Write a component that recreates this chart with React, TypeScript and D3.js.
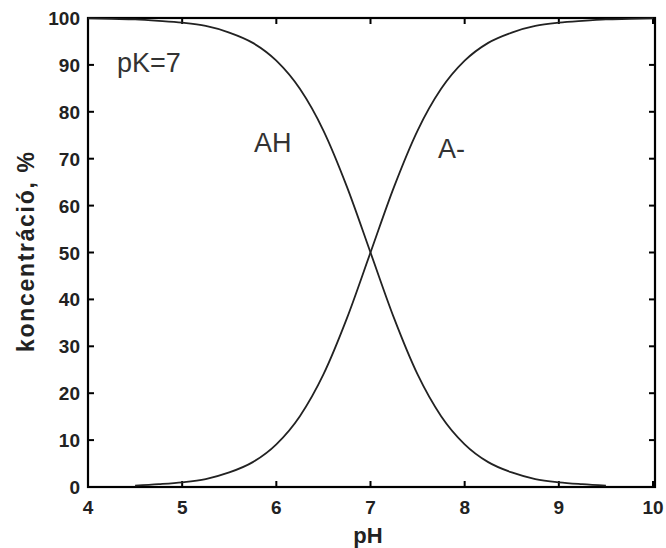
import React, { useEffect, useRef } from "react";
import * as d3 from "d3";

const width = 666;
const height = 548;
const margin = { top: 18, right: 11, bottom: 61, left: 88 };

// pH steps and read concentrations (%)
const phAH = [4.0, 4.25, 4.5, 4.75, 5.0, 5.25, 5.5, 5.75, 6.0, 6.25, 6.5, 6.75, 7.0, 7.25, 7.5, 7.75, 8.0, 8.25, 8.5, 8.75, 9.0, 9.25, 9.5];
const valAH = [99.9, 99.8, 99.7, 99.4, 99.0, 98.3, 96.9, 94.7, 90.9, 84.9, 76.0, 64.0, 50.0, 36.0, 24.0, 15.1, 9.1, 5.3, 3.1, 1.7, 1.0, 0.6, 0.3];
const phA = [4.5, 4.75, 5.0, 5.25, 5.5, 5.75, 6.0, 6.25, 6.5, 6.75, 7.0, 7.25, 7.5, 7.75, 8.0, 8.25, 8.5, 8.75, 9.0, 9.25, 9.5, 9.75, 10.0];
const valA = [0.3, 0.6, 1.0, 1.7, 3.1, 5.3, 9.1, 15.1, 24.0, 36.0, 50.0, 64.0, 76.0, 84.9, 90.9, 94.7, 96.9, 98.3, 99.0, 99.4, 99.7, 99.8, 99.9];

const xTicks = [4, 5, 6, 7, 8, 9, 10];
const yTicks = [0, 10, 20, 30, 40, 50, 60, 70, 80, 90, 100];

const App = () => {
  const ref = useRef<SVGSVGElement>(null);

  useEffect(() => {
    const svg = d3.select(ref.current);
    svg.selectAll("*").remove();
    const font = "'Liberation Sans', Arial, sans-serif";

    const x = d3.scaleLinear().domain([4, 10]).range([margin.left, 653]);
    const y = d3.scaleLinear().domain([0, 100]).range([height - margin.bottom, margin.top]);
    const x0 = margin.left, x1 = 655, y0 = height - margin.bottom, y1 = margin.top;

    svg.append("rect")
      .attr("x", x0).attr("y", y1)
      .attr("width", x1 - x0).attr("height", y0 - y1)
      .attr("fill", "none").attr("stroke", "#000").attr("stroke-width", 2.2);

    const tl = 6;
    const g = svg.append("g").attr("stroke", "#000").attr("stroke-width", 2);
    xTicks.forEach((t) => {
      g.append("line").attr("x1", x(t)).attr("x2", x(t)).attr("y1", y0).attr("y2", y0 - tl);
      g.append("line").attr("x1", x(t)).attr("x2", x(t)).attr("y1", y1).attr("y2", y1 + tl);
    });
    yTicks.forEach((t) => {
      g.append("line").attr("x1", x0).attr("x2", x0 + tl).attr("y1", y(t)).attr("y2", y(t));
      g.append("line").attr("x1", x1).attr("x2", x1 - tl).attr("y1", y(t)).attr("y2", y(t));
    });

    svg.append("g").selectAll("text").data(xTicks).join("text")
      .attr("x", (d) => x(d)).attr("y", y0 + 27)
      .attr("text-anchor", "middle")
      .attr("font-family", font).attr("font-weight", "bold").attr("font-size", 19)
      .attr("fill", "#222").text((d) => d);

    svg.append("g").selectAll("text").data(yTicks).join("text")
      .attr("x", x0 - 8).attr("y", (d) => y(d) + 7)
      .attr("text-anchor", "end")
      .attr("font-family", font).attr("font-weight", "bold").attr("font-size", 19)
      .attr("fill", "#222").text((d) => d);

    svg.append("text")
      .attr("x", 368).attr("y", 543)
      .attr("text-anchor", "middle")
      .attr("font-family", font).attr("font-weight", "bold").attr("font-size", 22)
      .attr("fill", "#222").text("pH");

    svg.append("text")
      .attr("transform", `translate(34,252) rotate(-90)`)
      .attr("text-anchor", "middle")
      .attr("font-family", font).attr("font-weight", "bold").attr("font-size", 23)
      .attr("textLength", 200).attr("lengthAdjust", "spacing")
      .attr("fill", "#222").text("koncentráció, %");

    const line = d3.line<[number, number]>()
      .x((d) => x(d[0])).y((d) => y(d[1]))
      .curve(d3.curveMonotoneX);

    const ahData = phAH.map((p, i) => [p, valAH[i]] as [number, number]);
    const aData = phA.map((p, i) => [p, valA[i]] as [number, number]);

    [ahData, aData].forEach((dd) => {
      svg.append("path").datum(dd)
        .attr("fill", "none").attr("stroke", "#222").attr("stroke-width", 1.8)
        .attr("d", line);
    });

    const labels = [
      { t: "pK=7", x: 117, y: 72 },
      { t: "AH", x: 254, y: 152 },
      { t: "A-", x: 438, y: 158 },
    ];
    svg.append("g").selectAll("text").data(labels).join("text")
      .attr("x", (d) => d.x).attr("y", (d) => d.y)
      .attr("font-family", font).attr("font-size", 27)
      .attr("fill", "#333").text((d) => d.t);
  }, []);

  return (
    <svg
      ref={ref}
      width={width}
      height={height}
      style={{ position: "absolute", left: 0, top: 0, background: "#fff" }}
    />
  );
};

export default App;
